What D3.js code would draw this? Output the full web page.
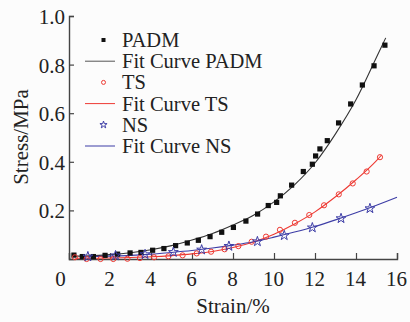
<!DOCTYPE html>
<html>
<head>
<meta charset="utf-8">
<script src="https://cdn.jsdelivr.net/npm/d3@7"></script>
<style>
  body { margin: 0; background: #fcfcfc; }
  svg { display: block; }
  svg text { font-family: "Liberation Serif", "Times New Roman", serif !important; }
</style>
</head>
<body>
<div id="chart"></div>
<script>
// measured points [strain %, stress MPa]
const padmPoints = [[0.24,0.016],[0.65,0.01],[1.19,0.01],[1.76,0.015],[2.37,0.02],[2.98,0.025],[3.51,0.027],[4.08,0.036],[4.63,0.043],[5.2,0.055],[5.77,0.066],[6.31,0.077],[6.88,0.092],[7.45,0.11],[8.02,0.13],[8.63,0.156],[9.2,0.185],[9.72,0.22],[10.13,0.233],[10.31,0.26],[10.86,0.304],[11.43,0.36],[11.87,0.39],[12.03,0.424],[12.24,0.453],[12.6,0.487],[13.15,0.56],[13.74,0.638],[14.31,0.716],[14.88,0.795],[15.41,0.88]];
const tsPoints = [[0.29,0.007],[0.86,0.0],[1.54,0.0],[2.16,0.0],[2.85,0.001],[3.46,0.004],[4.15,0.007],[4.85,0.011],[5.54,0.015],[6.23,0.023],[6.93,0.03],[7.59,0.04],[8.26,0.053],[8.91,0.071],[9.61,0.092],[10.29,0.12],[11.02,0.149],[11.72,0.181],[12.44,0.221],[13.16,0.266],[13.84,0.311],[14.52,0.36],[15.17,0.419]];
const nsPoints = [[0.92,0.012],[2.27,0.016],[3.71,0.021],[5.09,0.03],[6.47,0.04],[7.8,0.055],[9.19,0.074],[10.5,0.099],[11.87,0.131],[13.27,0.169],[14.68,0.21]];

// fit curves
const padmFit = [[0.3,0.012],[1,0.013],[2,0.018],[3,0.026],[4,0.038],[5,0.055],[6,0.078],[7,0.105],[8,0.14],[9,0.18],[10,0.235],[11,0.305],[12,0.395],[13,0.515],[14,0.655],[15,0.83],[15.45,0.91]];
const tsFit = [[0.3,0.003],[1,0.003],[2,0.004],[3,0.006],[4,0.009],[5,0.014],[6,0.021],[7,0.031],[8,0.047],[9,0.07],[10,0.102],[11,0.144],[12,0.194],[13,0.256],[14,0.326],[15,0.405],[15.25,0.428]];
const nsFit = [[0.7,0.009],[2,0.012],[3,0.015],[4,0.02],[5,0.027],[6,0.035],[7,0.045],[8,0.057],[9,0.071],[10,0.09],[11,0.111],[12,0.134],[13,0.161],[14,0.19],[15,0.221],[16,0.254]];

const xTicks = [0,2,4,6,8,10,12,14,16];
const yTicks = [0.2,0.4,0.6,0.8,1.0];
const legendLabels = ["PADM","Fit Curve PADM","TS","Fit Curve TS","NS","Fit Curve NS"];

const width = 410, height = 322;
const margin = { top: 16, right: 13, bottom: 63, left: 69 };

const svg = d3.select("#chart").append("svg")
    .attr("width", width)
    .attr("height", height);

const x = d3.scaleLinear().domain([0, 16]).range([margin.left, width - margin.right]);
const y = d3.scaleLinear().domain([0, 1]).range([height - margin.bottom, margin.top]);

const axisColor = "#444";
const red = "#ee3a33", blue = "#3d3da6", black = "#111";

// X axis, ticks pointing inward
const gx = svg.append("g")
    .attr("transform", `translate(0,${y(0)})`)
    .call(d3.axisBottom(x).tickValues(xTicks).tickSize(-6).tickPadding(12).tickFormat(d3.format("d")));
gx.select(".domain").attr("stroke", axisColor).attr("stroke-width", 1.4);
gx.selectAll(".tick line").attr("stroke", axisColor).attr("stroke-width", 1.2);
gx.selectAll(".tick text")
    .attr("font-size", 21).attr("fill", "#222")
    .attr("dx", d => d === 0 ? -9 : -1);

// Y axis
const gy = svg.append("g")
    .attr("transform", `translate(${x(0)},0)`)
    .call(d3.axisLeft(y).tickValues(yTicks).tickSize(-5).tickPadding(4).tickFormat(d3.format(".1f")));
gy.select(".domain").attr("stroke", axisColor).attr("stroke-width", 1.4);
gy.selectAll(".tick line").attr("stroke", axisColor).attr("stroke-width", 1.2);
gy.selectAll(".tick text").attr("font-size", 21).attr("fill", "#222").attr("dy", "0.36em");

// axis titles
svg.append("text")
    .attr("x", 233).attr("y", 313)
    .attr("text-anchor", "middle")
    .attr("font-size", 21).attr("fill", "#222")
    .text("Strain/%");
svg.append("text")
    .attr("transform", "translate(28,137) rotate(-90)")
    .attr("text-anchor", "middle")
    .attr("font-size", 21).attr("fill", "#222")
    .text("Stress/MPa");

const line = d3.line()
    .x(d => x(d[0]))
    .y(d => y(d[1]))
    .curve(d3.curveMonotoneX);

// fit curves
svg.append("path").datum(padmFit).attr("d", line)
    .attr("fill", "none").attr("stroke", "#333").attr("stroke-width", 1.1);
svg.append("path").datum(tsFit).attr("d", line)
    .attr("fill", "none").attr("stroke", red).attr("stroke-width", 1.1);
svg.append("path").datum(nsFit).attr("d", line)
    .attr("fill", "none").attr("stroke", blue).attr("stroke-width", 1.1);

// markers
const star = d3.symbol().type(d3.symbolStar);

svg.append("g").selectAll("rect")
    .data(padmPoints)
    .join("rect")
    .attr("x", d => x(d[0]) - 2.6)
    .attr("y", d => y(d[1]) - 2.6)
    .attr("width", 5.2).attr("height", 5.2)
    .attr("fill", black);

svg.append("g").selectAll("circle")
    .data(tsPoints)
    .join("circle")
    .attr("cx", d => x(d[0]))
    .attr("cy", d => y(d[1]))
    .attr("r", 2.6)
    .attr("fill", "none").attr("stroke", red).attr("stroke-width", 1);

svg.append("g").selectAll("path")
    .data(nsPoints)
    .join("path")
    .attr("transform", d => `translate(${x(d[0])},${y(d[1]) + 0.5})`)
    .attr("d", star.size(30)())
    .attr("fill", "none").attr("stroke", blue).attr("stroke-width", 1);

// legend
const legend = svg.append("g");
const rowH = 21.2, top0 = 40;
legendLabels.forEach((lab, i) => {
    const cy = top0 + i * rowH;
    const g = legend.append("g");
    if (i === 0) {
        g.append("rect").attr("x", 101.5).attr("y", cy - 2).attr("width", 4).attr("height", 4).attr("fill", black);
    } else if (i === 2) {
        g.append("circle").attr("cx", 103.5).attr("cy", cy).attr("r", 2).attr("fill", "none").attr("stroke", red);
    } else if (i === 4) {
        g.append("path").attr("transform", `translate(103.5,${cy})`).attr("d", star.size(16)())
            .attr("fill", "none").attr("stroke", blue);
    } else {
        const c = i === 1 ? "#555" : i === 3 ? red : blue;
        g.append("line").attr("x1", 85).attr("x2", 115).attr("y1", cy).attr("y2", cy)
            .attr("stroke", c).attr("stroke-width", 1);
    }
    g.append("text")
        .attr("x", 122).attr("y", cy + 7)
        .attr("font-size", 20.5).attr("fill", "#222")
        .text(lab);
});
</script>
</body>
</html>
